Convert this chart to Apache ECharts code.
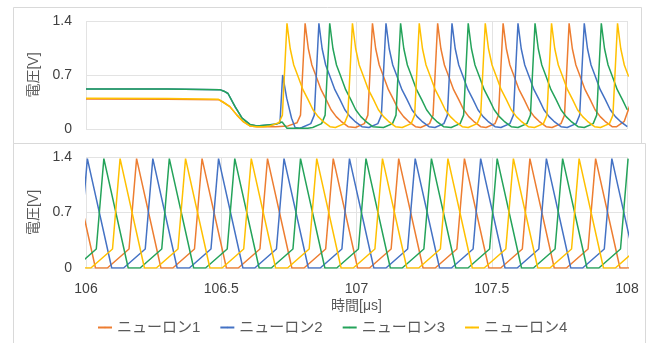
<!DOCTYPE html>
<html>
<head>
<meta charset="utf-8">
<script src="https://cdn.jsdelivr.net/npm/echarts@6/dist/echarts.min.js"></script>
<style>
html,body{margin:0;padding:0;background:#fff;}
#chart{width:652px;height:343px;}
</style>
</head>
<body>
<div id="chart"></div>
<script>
// ---- data (time in µs, voltage in V) ----
const seriesNames = ['ニューロン1', 'ニューロン2', 'ニューロン3', 'ニューロン4'];
const xTicks = [106, 106.5, 107, 107.5, 108];
const yTicks = [0, 0.7, 1.4];
const xAxisTitle = '時間[μs]';
const yAxisTitle = '電圧[V]';

// upper panel
const n1Top = [[106.000,0.39],[106.300,0.385],[106.490,0.38],[106.506,0.35],[106.532,0.29],[106.558,0.18],[106.580,0.10],[106.606,0.04],[106.632,0.03],[106.700,0.03],
  [106.747,0.04],[106.780,0.08],[106.793,0.18],[106.810,1.37],[106.822,1.04],[106.835,0.83],[106.851,0.68],[106.869,0.51],[106.888,0.38],[106.906,0.25],[106.925,0.16],[106.943,0.10],[106.969,0.03],
  [106.996,0.02],[107.029,0.07],[107.042,0.18],[107.059,1.37],[107.071,1.04],[107.084,0.83],[107.100,0.68],[107.118,0.51],[107.137,0.38],[107.155,0.25],[107.174,0.16],[107.192,0.10],[107.218,0.03],
  [107.237,0.02],[107.270,0.07],[107.283,0.18],[107.300,1.37],[107.312,1.04],[107.325,0.83],[107.341,0.68],[107.359,0.51],[107.378,0.38],[107.396,0.25],[107.415,0.16],[107.433,0.10],[107.459,0.03],
  [107.479,0.02],[107.512,0.07],[107.525,0.18],[107.542,1.37],[107.554,1.04],[107.567,0.83],[107.583,0.68],[107.601,0.51],[107.620,0.38],[107.638,0.25],[107.657,0.16],[107.675,0.10],[107.701,0.03],
  [107.723,0.02],[107.756,0.07],[107.769,0.18],[107.786,1.37],[107.798,1.04],[107.811,0.83],[107.827,0.68],[107.845,0.51],[107.864,0.38],[107.882,0.25],[107.901,0.16],[107.919,0.10],[107.945,0.03],
  [107.962,0.03],[107.990,0.10],[108.010,0.30]];

const n2Top = [[106.000,0.52],[106.300,0.52],[106.495,0.51],[106.510,0.49],[106.525,0.46],[106.551,0.29],[106.577,0.14],[106.606,0.06],[106.632,0.04],[106.700,0.06],[106.717,0.08],
  [106.727,0.70],[106.742,0.40],[106.760,0.14],[106.773,0.02],[106.790,0.01],
  [106.798,0.02],[106.831,0.07],[106.844,0.18],[106.861,1.37],[106.873,1.04],[106.886,0.83],[106.902,0.68],[106.920,0.51],[106.939,0.38],[106.957,0.25],[106.976,0.16],[106.994,0.10],[107.020,0.03],
  [107.046,0.02],[107.079,0.07],[107.092,0.18],[107.109,1.37],[107.121,1.04],[107.134,0.83],[107.150,0.68],[107.168,0.51],[107.187,0.38],[107.205,0.25],[107.224,0.16],[107.242,0.10],[107.268,0.03],
  [107.290,0.02],[107.323,0.07],[107.336,0.18],[107.353,1.37],[107.365,1.04],[107.378,0.83],[107.394,0.68],[107.412,0.51],[107.431,0.38],[107.449,0.25],[107.468,0.16],[107.486,0.10],[107.512,0.03],
  [107.534,0.02],[107.567,0.07],[107.580,0.18],[107.597,1.37],[107.609,1.04],[107.622,0.83],[107.638,0.68],[107.656,0.51],[107.675,0.38],[107.693,0.25],[107.712,0.16],[107.730,0.10],[107.756,0.03],
  [107.779,0.02],[107.812,0.07],[107.825,0.18],[107.842,1.37],[107.854,1.04],[107.867,0.83],[107.883,0.68],[107.901,0.51],[107.920,0.38],[107.938,0.25],[107.957,0.16],[107.975,0.10],[108.001,0.03]];

const n3Top = [[106.000,0.52],[106.300,0.52],[106.495,0.51],[106.510,0.49],[106.525,0.46],[106.551,0.29],[106.577,0.14],[106.606,0.06],[106.632,0.04],[106.700,0.06],[106.717,0.08],[106.725,0.09],[106.743,0.01],[106.820,0.01],
  [106.838,0.02],[106.871,0.07],[106.884,0.18],[106.901,1.37],[106.913,1.04],[106.926,0.83],[106.942,0.68],[106.960,0.51],[106.979,0.38],[106.997,0.25],[107.016,0.16],[107.034,0.10],[107.060,0.03],
  [107.100,0.02],[107.133,0.07],[107.146,0.18],[107.163,1.37],[107.175,1.04],[107.188,0.83],[107.204,0.68],[107.222,0.51],[107.241,0.38],[107.259,0.25],[107.278,0.16],[107.296,0.10],[107.322,0.03],
  [107.350,0.02],[107.383,0.07],[107.396,0.18],[107.413,1.37],[107.425,1.04],[107.438,0.83],[107.454,0.68],[107.472,0.51],[107.491,0.38],[107.509,0.25],[107.528,0.16],[107.546,0.10],[107.572,0.03],
  [107.597,0.02],[107.630,0.07],[107.643,0.18],[107.660,1.37],[107.672,1.04],[107.685,0.83],[107.701,0.68],[107.719,0.51],[107.738,0.38],[107.756,0.25],[107.775,0.16],[107.793,0.10],[107.819,0.03],
  [107.842,0.02],[107.875,0.07],[107.888,0.18],[107.905,1.37],[107.917,1.04],[107.930,0.83],[107.946,0.68],[107.964,0.51],[107.983,0.38],[108.001,0.25]];

const n4Top = [[106.000,0.40],[106.300,0.395],[106.490,0.385],[106.506,0.35],[106.532,0.29],[106.558,0.18],[106.580,0.10],[106.606,0.04],[106.632,0.03],[106.655,0.03],
  [106.680,0.04],[106.713,0.08],[106.726,0.18],[106.743,1.37],[106.755,1.04],[106.768,0.83],[106.784,0.68],[106.802,0.51],[106.821,0.38],[106.839,0.25],[106.858,0.16],[106.876,0.10],[106.902,0.03],
  [106.922,0.02],[106.955,0.07],[106.968,0.18],[106.985,1.37],[106.997,1.04],[107.010,0.83],[107.026,0.68],[107.044,0.51],[107.063,0.38],[107.081,0.25],[107.100,0.16],[107.118,0.10],[107.144,0.03],
  [107.169,0.02],[107.202,0.07],[107.215,0.18],[107.232,1.37],[107.244,1.04],[107.257,0.83],[107.273,0.68],[107.291,0.51],[107.310,0.38],[107.328,0.25],[107.347,0.16],[107.365,0.10],[107.391,0.03],
  [107.413,0.02],[107.446,0.07],[107.459,0.18],[107.476,1.37],[107.488,1.04],[107.501,0.83],[107.517,0.68],[107.535,0.51],[107.554,0.38],[107.572,0.25],[107.591,0.16],[107.609,0.10],[107.635,0.03],
  [107.658,0.02],[107.691,0.07],[107.704,0.18],[107.721,1.37],[107.733,1.04],[107.746,0.83],[107.762,0.68],[107.780,0.51],[107.799,0.38],[107.817,0.25],[107.836,0.16],[107.854,0.10],[107.880,0.03],
  [107.902,0.02],[107.935,0.07],[107.948,0.18],[107.965,1.37],[107.977,1.04],[107.990,0.83],[108.006,0.68]];

// lower panel
const n1Bottom = [[105.945,1.38],[106.035,0],
  [106.079,0],[106.159,0.24],[106.187,1.38],[106.277,0],
  [106.321,0],[106.401,0.24],[106.429,1.38],[106.519,0],
  [106.563,0],[106.643,0.24],[106.671,1.38],[106.761,0],
  [106.806,0],[106.886,0.24],[106.914,1.38],[107.004,0],
  [107.048,0],[107.128,0.24],[107.156,1.38],[107.246,0],
  [107.291,0],[107.371,0.24],[107.399,1.38],[107.489,0],
  [107.533,0],[107.613,0.24],[107.641,1.38],[107.731,0],
  [107.776,0],[107.856,0.24],[107.884,1.38],[107.974,0],
  [108.018,0]];

const n2Bottom = [[105.897,0],[105.977,0.24],[106.005,1.38],[106.095,0],
  [106.139,0],[106.219,0.24],[106.247,1.38],[106.337,0],
  [106.382,0],[106.462,0.24],[106.490,1.38],[106.580,0],
  [106.624,0],[106.704,0.24],[106.732,1.38],[106.822,0],
  [106.866,0],[106.946,0.24],[106.974,1.38],[107.064,0],
  [107.109,0],[107.189,0.24],[107.217,1.38],[107.307,0],
  [107.351,0],[107.431,0.24],[107.459,1.38],[107.549,0],
  [107.594,0],[107.674,0.24],[107.702,1.38],[107.792,0],
  [107.836,0],[107.916,0.24],[107.944,1.38],[108.034,0]];

const n3Bottom = [[105.958,0],[106.038,0.24],[106.066,1.38],[106.156,0],
  [106.200,0],[106.280,0.24],[106.308,1.38],[106.398,0],
  [106.442,0],[106.522,0.24],[106.550,1.38],[106.640,0],
  [106.685,0],[106.765,0.24],[106.793,1.38],[106.883,0],
  [106.927,0],[107.007,0.24],[107.035,1.38],[107.125,0],
  [107.169,0],[107.249,0.24],[107.277,1.38],[107.367,0],
  [107.412,0],[107.492,0.24],[107.520,1.38],[107.610,0],
  [107.654,0],[107.734,0.24],[107.762,1.38],[107.852,0],
  [107.896,0],[107.976,0.24],[108.004,1.38]];

const n4Bottom = [[105.884,1.38],[105.974,0],
  [106.018,0],[106.098,0.24],[106.126,1.38],[106.216,0],
  [106.260,0],[106.340,0.24],[106.368,1.38],[106.458,0],
  [106.503,0],[106.583,0.24],[106.611,1.38],[106.701,0],
  [106.745,0],[106.825,0.24],[106.853,1.38],[106.943,0],
  [106.988,0],[107.068,0.24],[107.096,1.38],[107.186,0],
  [107.230,0],[107.310,0.24],[107.338,1.38],[107.428,0],
  [107.472,0],[107.552,0.24],[107.580,1.38],[107.670,0],
  [107.715,0],[107.795,0.24],[107.823,1.38],[107.913,0],
  [107.957,0],[108.037,0.24]];

// ---- chart ----
const colors = ['#ED7D31', '#4472C4', '#24A35A', '#FFC000'];
const FONT = "'Liberation Sans', 'Noto Sans CJK JP', sans-serif";
const chart = echarts.init(document.getElementById('chart'), null, {renderer: 'canvas'});

function xAxisFor(gridIndex, showLabels) {
  return {
    type: 'value', gridIndex: gridIndex,
    min: xTicks[0], max: xTicks[xTicks.length - 1], interval: xTicks[1] - xTicks[0],
    axisLine: {show: false}, axisTick: {show: false},
    splitLine: {show: true, lineStyle: {color: '#E3E3E3', width: 1}},
    axisLabel: {show: showLabels, color: '#404040', fontSize: 14, fontFamily: FONT, margin: 14},
    name: showLabels ? xAxisTitle : '',
    nameLocation: 'middle', nameGap: 31,
    nameTextStyle: {color: '#595959', fontSize: 14, fontFamily: FONT}
  };
}
function yAxisFor(gridIndex) {
  return {
    type: 'value', gridIndex: gridIndex,
    min: yTicks[0], max: yTicks[yTicks.length - 1], interval: yTicks[1] - yTicks[0],
    axisLine: {show: false}, axisTick: {show: false},
    splitLine: {show: true, lineStyle: {color: '#E3E3E3', width: 1}},
    axisLabel: {color: '#404040', fontSize: 14, fontFamily: FONT, margin: 14,
      formatter: function (v) { return String(Math.round(v * 10) / 10); }},
    name: yAxisTitle, nameLocation: 'middle', nameRotate: 90, nameGap: 42,
    nameTextStyle: {color: '#595959', fontSize: 14, fontFamily: FONT}
  };
}
function lineSeries(name, data, idx, color) {
  return {
    name: name, type: 'line', data: data,
    xAxisIndex: idx, yAxisIndex: idx,
    symbol: 'none', showSymbol: false, clip: true,
    lineStyle: {color: color, width: 1.5},
    itemStyle: {color: color},
    z: 2
  };
}

const topData = [n1Top, n2Top, n3Top, n4Top];
const bottomData = [n1Bottom, n2Bottom, n3Bottom, n4Bottom];
const series = [];
seriesNames.forEach(function (nm, i) { series.push(lineSeries(nm, topData[i], 0, colors[i])); });
seriesNames.forEach(function (nm, i) { series.push(lineSeries(nm, bottomData[i], 1, colors[i])); });

chart.setOption({
  animation: false,
  backgroundColor: '#ffffff',
  color: colors,
  textStyle: {fontFamily: FONT},
  graphic: [
    {type: 'rect', shape: {x: 13.5, y: 7.5, width: 628, height: 136}, style: {fill: null, stroke: '#D9D9D9', lineWidth: 1}, z: 0, silent: true},
    {type: 'rect', shape: {x: 13.5, y: 143.5, width: 632, height: 210}, style: {fill: null, stroke: '#D9D9D9', lineWidth: 1}, z: 0, silent: true}
  ],
  grid: [
    {left: 86, right: 25, top: 21, height: 108},
    {left: 86, right: 25, top: 157, height: 111}
  ],
  xAxis: [xAxisFor(0, false), xAxisFor(1, true)],
  yAxis: [yAxisFor(0), yAxisFor(1)],
  legend: {
    data: seriesNames, left: 92, top: 315,
    itemWidth: 14, itemHeight: 2, itemGap: 19,
    textStyle: {color: '#595959', fontSize: 15, fontFamily: FONT}
  },
  series: series
});
</script>
</body>
</html>
